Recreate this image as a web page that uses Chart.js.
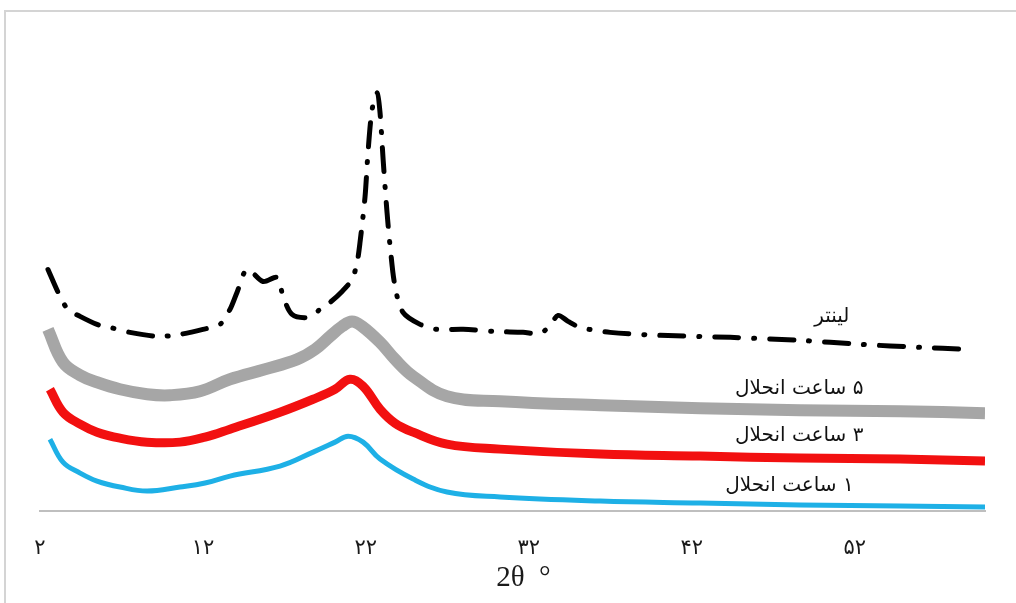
<!DOCTYPE html>
<html>
<head>
<meta charset="utf-8">
<script src="https://cdn.jsdelivr.net/npm/chart.js@4.4.1/dist/chart.umd.min.js"></script>
<style>
  html, body { margin: 0; padding: 0; background: #fff; overflow: hidden; }
  #wrap { position: relative; width: 1016px; height: 603px; }
  #frame { position: absolute; left: 4px; top: 10px; width: 1100px; height: 700px;
           border-left: 2px solid #d4d4d4; border-top: 2px solid #d4d4d4; }
  canvas { position: absolute; left: 0; top: 0; }
</style>
</head>
<body>
<div id="wrap">
  <div id="frame"></div>
  <canvas id="xrd" width="1016" height="603"></canvas>
</div>
<script>
// x axis ticks (2θ) and their Persian labels
const xTicks = [2, 12, 22, 32, 42, 52];
const xTickLabels = ['۲', '۱۲', '۲۲', '۳۲', '۴۲', '۵۲'];

// series names as printed next to the curves
const seriesNames = ['لینتر', '۵ ساعت انحلال', '۳ ساعت انحلال', '۱ ساعت انحلال'];

// linter (raw cotton linter) - intensity in arbitrary units
const linterX = [2.49, 3.23, 3.72, 4.46, 5.5, 6.3, 7.52, 9.24, 10.59, 12.0, 13.05, 13.66, 14.09, 14.71,
  15.69, 16.55, 16.92, 17.47, 18.45, 19.19, 19.8, 20.54, 21.15, 21.46, 21.64, 21.95, 22.13, 22.38,
  22.69, 22.87, 23.06, 23.3, 23.49, 23.79, 24.28, 25.33, 26.37, 27.97, 29.81, 31.65, 32.69, 33.31,
  33.8, 34.41, 35.15, 36.99, 40.06, 44.36, 48.65, 52.34, 56.02, 58.78];
const linterY = [242, 215, 202, 195, 187, 184, 179, 175, 177, 182, 187, 202, 219, 242,
  230, 234, 215, 197, 194, 202, 209, 220, 232, 249, 269, 315, 359, 402,
  419, 399, 352, 299, 265, 225, 199, 187, 182, 182, 180, 179, 178, 186,
  196, 190, 184, 179, 176, 174, 171, 167, 164, 162];

// 5 h hydrolysis
const h5X = [2.49, 3.41, 4.46, 5.5, 6.91, 8.57, 9.98, 11.82, 13.66, 15.81, 17.78, 18.88, 19.8, 20.54,
  21.15, 21.77, 22.87, 23.79, 24.9, 26.98, 30.24, 36.38, 42.52, 48.65, 54.79, 60];
const h5Y = [182, 149, 136, 129, 122, 117, 116, 120, 132, 142, 152, 162, 175, 185,
  190, 185, 169, 152, 135, 115, 110, 106, 103, 101, 100, 98];

// 3 h hydrolysis
const h3X = [2.61, 3.41, 4.46, 5.5, 6.91, 8.57, 10.59, 12.13, 13.66, 16.73, 18.76, 20.11, 21.03,
  21.83, 22.87, 23.79, 24.9, 26.98, 30.24, 36.38, 42.52, 48.65, 54.79, 60];
const h3Y = [122, 99, 87, 79, 73, 69, 69, 74, 82, 99, 112, 122, 132,
  125, 102, 88, 79, 67, 62, 57, 55, 53, 52, 50];

// 1 h hydrolysis
const h1X = [2.61, 3.41, 4.46, 5.5, 6.91, 8.57, 10.59, 12.13, 13.66, 16.73, 18.76, 20.11, 20.91,
  21.83, 22.87, 24.9, 26.98, 30.24, 36.38, 42.52, 48.65, 54.79, 60];
const h1Y = [72, 49, 38, 30, 24, 20, 24, 28, 35, 45, 59, 69, 75,
  69, 52, 32, 19, 14, 10, 8, 6, 5, 4];

const pts = (xs, ys) => xs.map((x, i) => ({ x: x, y: ys[i] }));

// where the series names sit (data coordinates)
const labelSpots = [
  { x: 50.6, y: 195 },
  { x: 48.6, y: 122 },
  { x: 48.6, y: 75 },
  { x: 48.0, y: 25 }
];

const curveLabels = {
  id: 'curveLabels',
  afterDatasetsDraw(chart) {
    const ctx = chart.ctx;
    const sx = chart.scales.x, sy = chart.scales.y;
    ctx.save();
    ctx.direction = 'rtl';
    ctx.font = '20px "DejaVu Sans"';
    ctx.fillStyle = '#111111';
    ctx.textAlign = 'center';
    ctx.textBaseline = 'middle';
    seriesNames.forEach((name, i) => {
      ctx.fillText(name, sx.getPixelForValue(labelSpots[i].x), sy.getPixelForValue(labelSpots[i].y));
    });
    ctx.restore();
  }
};

new Chart(document.getElementById('xrd'), {
  type: 'line',
  data: {
    datasets: [
      {
        label: seriesNames[0],
        data: pts(linterX, linterY),
        borderColor: '#000000',
        borderWidth: 5,
        borderDash: [24, 15, 1, 15],
        borderCapStyle: 'round',
        pointRadius: 0,
        tension: 0.3
      },
      {
        label: seriesNames[1],
        data: pts(h5X, h5Y),
        borderColor: '#a6a6a6',
        borderWidth: 12,
        pointRadius: 0,
        tension: 0.4
      },
      {
        label: seriesNames[2],
        data: pts(h3X, h3Y),
        borderColor: '#f21010',
        borderWidth: 9,
        pointRadius: 0,
        tension: 0.4
      },
      {
        label: seriesNames[3],
        data: pts(h1X, h1Y),
        borderColor: '#1eb0e6',
        borderWidth: 5,
        pointRadius: 0,
        tension: 0.4
      }
    ]
  },
  options: {
    responsive: false,
    animation: false,
    layout: { padding: { left: 40, right: 31, top: 20, bottom: 7 } },
    plugins: {
      legend: { display: false },
      tooltip: { enabled: false }
    },
    scales: {
      x: {
        type: 'linear',
        min: 2,
        max: 60,
        afterBuildTicks: (scale) => { scale.ticks = xTicks.map(v => ({ value: v })); },
        grid: { display: false, drawTicks: false },
        border: { display: true, color: '#bfbfbf', width: 2 },
        ticks: {
          padding: 25,
          maxRotation: 0,
          color: '#1a1a1a',
          font: { family: '"Liberation Serif", "DejaVu Sans"', size: 21 },
          callback: (v) => xTickLabels[xTicks.indexOf(v)]
        },
        title: {
          display: true,
          text: '   2θ  °',
          color: '#1a1a1a',
          padding: { top: -25, bottom: 0 },
          font: { family: '"Liberation Serif"', size: 29 }
        }
      },
      y: {
        display: false,
        min: 0,
        max: 492
      }
    }
  },
  plugins: [curveLabels]
});
</script>
</body>
</html>
